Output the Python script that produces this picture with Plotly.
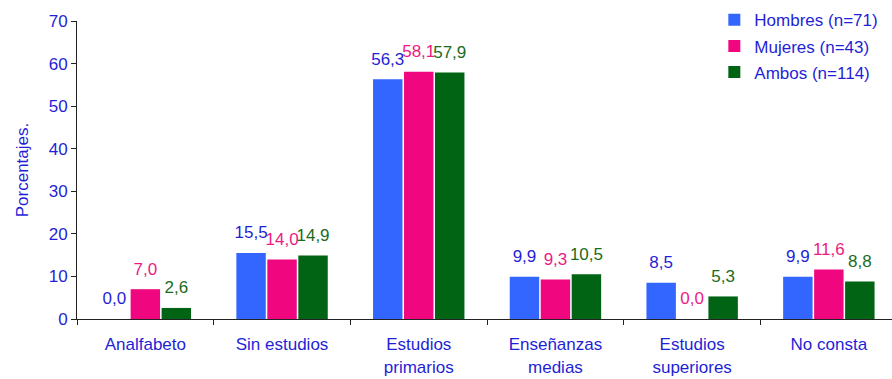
import plotly.graph_objects as go

categories = ["Analfabeto", "Sin estudios", "Estudios<br>primarios",
              "Enseñanzas<br>medias", "Estudios<br>superiores", "No consta"]
hombres = [0.0, 15.5, 56.3, 9.9, 8.5, 9.9]
mujeres = [7.0, 14.0, 58.1, 9.3, 0.0, 11.6]
ambos = [2.6, 14.9, 57.9, 10.5, 5.3, 8.8]

series = [
    ("Hombres (n=71)", hombres, "#3366ff", "#1f1fd6"),
    ("Mujeres (n=43)", mujeres, "#f0077f", "#ec1a82"),
    ("Ambos (n=114)", ambos, "#006414", "#1b6b1b"),
]

font_family = "Liberation Sans, Arial, sans-serif"
axis_blue = "#1f1fd6"
gap = 0.32

fig = go.Figure()
for name, vals, color, tcolor in series:
    fig.add_trace(go.Bar(
        x=categories, y=vals, name=name, legendgroup=name,
        marker=dict(color=color, line=dict(width=0)),
    ))
# value labels: text-only scatter traces grouped the same way as the bars
for name, vals, color, tcolor in series:
    fig.add_trace(go.Scatter(
        x=categories, y=vals, mode="markers+text", showlegend=False,
        legendgroup=name, hoverinfo="skip",
        marker=dict(size=15, color="rgba(0,0,0,0)"),
        text=[f"{v:.1f}".replace(".", ",") for v in vals],
        textposition="top center",
        textfont=dict(color=tcolor, size=17, family=font_family),
        cliponaxis=False,
    ))

fig.update_layout(
    width=892, height=379,
    margin=dict(l=77, r=0, t=21, b=60),
    paper_bgcolor="white", plot_bgcolor="white",
    barmode="group", bargap=gap, bargroupgap=0.05,
    scattermode="group", scattergap=gap,
    separators=",.",
    font=dict(family=font_family, size=17, color=axis_blue),
    legend=dict(x=0.782, y=1.063, xanchor="left", yanchor="top",
                font=dict(size=17, color=axis_blue), traceorder="grouped",
                bgcolor="rgba(0,0,0,0)", itemwidth=30, tracegroupgap=1),
)
fig.update_xaxes(
    range=[-0.5, 5.462], showline=True, linecolor="#222222", linewidth=1,
    ticks="outside", tickson="boundaries", ticklen=5, tickcolor="#222222",
    tickfont=dict(size=17, color=axis_blue), ticklabelstandoff=10, showgrid=False,
)
fig.update_yaxes(
    range=[0, 70], dtick=10, showline=True, linecolor="#222222", linewidth=1,
    ticks="outside", ticklen=5, tickcolor="#222222", showgrid=False, zeroline=False,
    tickfont=dict(size=17, color=axis_blue),
    title=dict(text="Porcentajes.", font=dict(size=17, color=axis_blue), standoff=15),
)

fig.write_html("out.html")
